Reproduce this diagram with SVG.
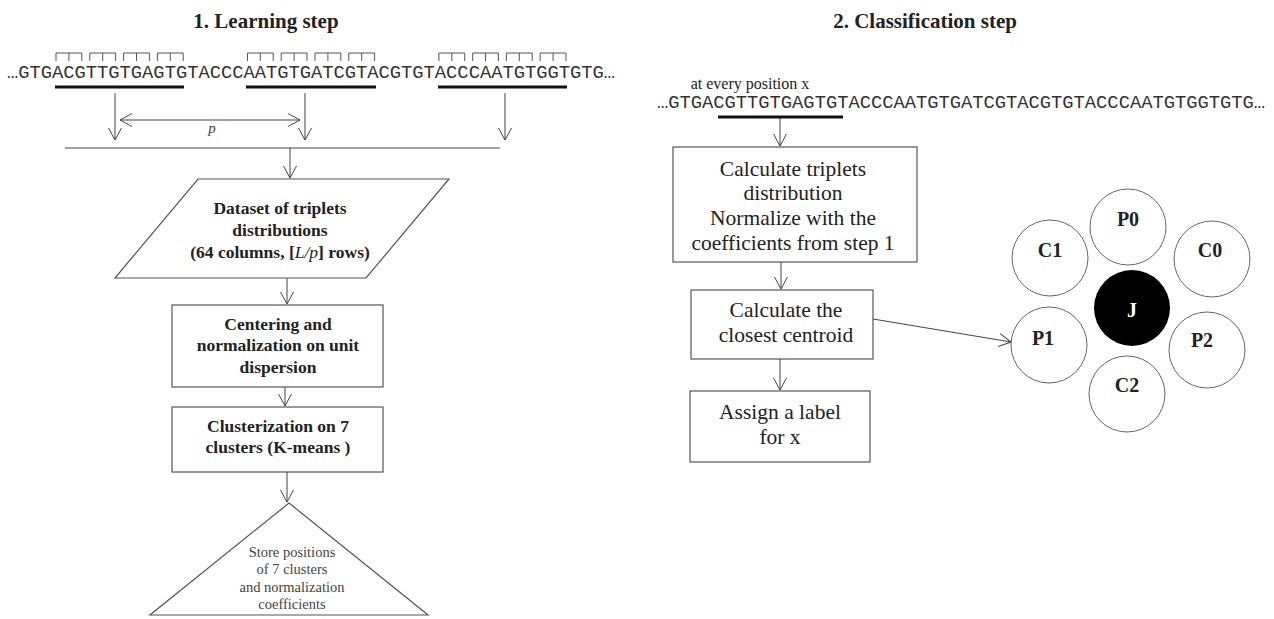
<svg xmlns="http://www.w3.org/2000/svg" width="1274" height="619" viewBox="0 0 1274 619">
<defs>
<marker id="ah" viewBox="0 0 13 14" refX="12.5" refY="7" markerWidth="13" markerHeight="14" markerUnits="userSpaceOnUse" orient="auto-start-reverse">
<path d="M0.5,0.5 L12.5,7 L0.5,13.5" fill="none" stroke="#444" stroke-width="1"/>
</marker>
<style>
.t{font-family:"Liberation Serif","Times New Roman",serif;fill:#222;text-anchor:middle}
.title{font-size:21px;font-weight:bold}
.lb{font-size:17.5px;font-weight:bold}
.rb{font-size:21.5px}
.sm{font-size:14.5px;fill:#444}
.cl{font-size:20px;font-weight:bold}
.seq{font-family:"Liberation Mono","Courier New",monospace;font-size:18.77px;fill:#333}
.shape{fill:#fff;stroke:#555;stroke-width:1.2}
.circ{fill:#fff;stroke:#666;stroke-width:1}
.con{fill:none;stroke:#444;stroke-width:1}
.arr{fill:none;stroke:#444;stroke-width:1;marker-end:url(#ah)}
.ul{stroke:#111;stroke-width:3}
.br{fill:none;stroke:#555;stroke-width:1}
</style>
</defs>

<text class="t title" x="266" y="28">1. Learning step</text>
<text class="t title" x="925" y="28">2. Classification step</text>

<g id="seq-left">
<text class="seq" x="7" y="78" textLength="608" lengthAdjust="spacingAndGlyphs">…GTGACGTTGTGAGTGTACCCAATGTGATCGTACGTGTACCCAATGTGGTGTG…</text>
<path class="br" d="M56,61V53H81.8V61M68.9,53V61 M89.8,61V53H115.6V61M102.7,53V61 M123.6,61V53H149.4V61M136.5,53V61 M157.4,61V53H183.2V61M170.3,53V61"/>
<path class="br" d="M247.5,61V53H273.2V61M260.3,53V61 M281.2,61V53H307V61M294.1,53V61 M315,61V53H340.8V61M327.9,53V61 M348.8,61V53H374.6V61M361.7,53V61"/>
<path class="br" d="M438.9,61V53H464.7V61M451.8,53V61 M472.7,61V53H498.4V61M485.5,53V61 M506.4,61V53H532.2V61M519.3,53V61 M540.2,61V53H566V61M553.1,53V61"/>
<line class="ul" x1="55" y1="87" x2="184" y2="87"/>
<line class="ul" x1="246" y1="87" x2="376" y2="87"/>
<line class="ul" x1="438" y1="87" x2="567" y2="87"/>
<text class="t" x="212" y="133" style="font-size:15px;font-style:italic;fill:#444">p</text>
</g>

<g id="seq-right">
<text class="t" x="750" y="89" style="font-size:16px;text-anchor:middle">at every position x</text>
<text class="seq" x="657" y="108" textLength="608" lengthAdjust="spacingAndGlyphs">…GTGACGTTGTGAGTGTACCCAATGTGATCGTACGTGTACCCAATGTGGTGTG…</text>
<line class="ul" x1="718" y1="117" x2="843" y2="117"/>
</g>

<g id="dataset">
<polygon class="shape" points="198,179 449,179 366,278 115,278"/>
<text class="t lb" x="280" y="214">Dataset of triplets</text>
<text class="t lb" x="280" y="236">distributions</text>
<text class="t lb" x="280" y="258">(64 columns, [<tspan font-style="italic" font-weight="normal">L/p</tspan>] rows)</text>
</g>

<g id="centering">
<rect class="shape" x="172" y="305" width="211" height="82"/>
<text class="t lb" x="278" y="330">Centering and</text>
<text class="t lb" x="278" y="351">normalization on unit</text>
<text class="t lb" x="278" y="373">dispersion</text>
</g>

<g id="clusterization">
<rect class="shape" x="172" y="407" width="211" height="65"/>
<text class="t lb" x="278" y="432">Clusterization on 7</text>
<text class="t lb" x="278" y="453">clusters (K-means )</text>
</g>

<g id="store">
<polygon class="shape" points="289,503 428,615 150,615"/>
<text class="t sm" x="292" y="557">Store positions</text>
<text class="t sm" x="292" y="574">of 7 clusters</text>
<text class="t sm" x="292" y="592">and normalization</text>
<text class="t sm" x="292" y="609">coefficients</text>
</g>

<g id="calc-triplets">
<rect class="shape" x="673" y="147" width="244" height="115"/>
<text class="t rb" x="793" y="176">Calculate triplets</text>
<text class="t rb" x="793" y="200">distribution</text>
<text class="t rb" x="793" y="225">Normalize with the</text>
<text class="t rb" x="793" y="250">coefficients from step 1</text>
</g>

<g id="closest">
<rect class="shape" x="691" y="290" width="182" height="69"/>
<text class="t rb" x="786" y="317">Calculate the</text>
<text class="t rb" x="786" y="342">closest centroid</text>
</g>

<g id="assign">
<rect class="shape" x="690" y="391" width="180" height="71"/>
<text class="t rb" x="780" y="419">Assign a label</text>
<text class="t rb" x="780" y="444">for x</text>
</g>

<g id="P0"><circle class="circ" cx="1128" cy="227" r="38"/><text class="t cl" x="1128" y="226">P0</text></g>
<g id="C1"><circle class="circ" cx="1050" cy="258" r="38"/><text class="t cl" x="1050" y="257">C1</text></g>
<g id="C0"><circle class="circ" cx="1212" cy="259" r="38"/><text class="t cl" x="1210" y="257">C0</text></g>
<g id="J"><circle cx="1132" cy="308" r="38" fill="#000"/><text class="t cl" x="1132" y="317" style="fill:#fff">J</text></g>
<g id="P1"><circle class="circ" cx="1049" cy="345" r="38"/><text class="t cl" x="1043" y="345">P1</text></g>
<g id="P2"><circle class="circ" cx="1207" cy="350" r="38"/><text class="t cl" x="1202" y="347">P2</text></g>
<g id="C2"><circle class="circ" cx="1127" cy="394" r="38"/><text class="t cl" x="1127" y="392">C2</text></g>

<g id="connectors">
<line class="arr" x1="115" y1="93" x2="115" y2="140"/>
<line class="arr" x1="305" y1="93" x2="305" y2="140"/>
<line class="arr" x1="505" y1="93" x2="505" y2="140"/>
<line class="con" x1="120" y1="120" x2="300" y2="120" marker-start="url(#ah)" marker-end="url(#ah)"/>
<line class="con" x1="65" y1="148" x2="500" y2="148"/>
<line class="arr" x1="290" y1="148" x2="290" y2="178"/>
<line class="arr" x1="287" y1="278" x2="287" y2="304"/>
<line class="arr" x1="285" y1="387" x2="285" y2="406"/>
<line class="arr" x1="287" y1="472" x2="287" y2="502"/>
<line class="arr" x1="780" y1="118" x2="780" y2="146"/>
<line class="arr" x1="781" y1="262" x2="781" y2="289"/>
<line class="arr" x1="780" y1="359" x2="780" y2="390"/>
<line class="arr" x1="873" y1="319" x2="1011" y2="342"/>
</g>
</svg>
